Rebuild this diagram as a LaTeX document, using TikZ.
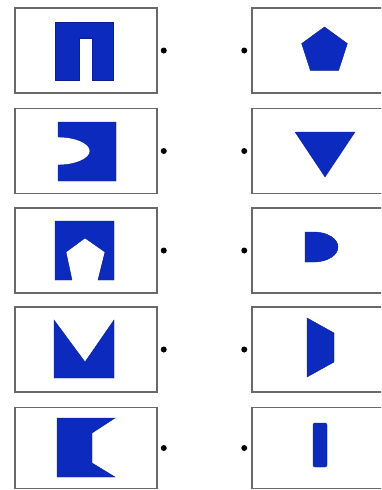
\documentclass[tikz,border=0pt]{standalone}
\usepackage{tikz}
\usetikzlibrary{positioning}
\definecolor{shapeblue}{RGB}{12,42,190}
\definecolor{framegray}{RGB}{105,105,105}

\begin{document}
\begin{tikzpicture}[x=1pt,y=-1pt,
    card/.style={draw=framegray,line width=1.1pt,fill=white,minimum width=142pt,minimum height=85pt,inner sep=0pt},
    rcard/.style={card,minimum width=150pt},
    pin/.style={circle,fill=black,minimum size=6pt,inner sep=0pt},
    piece/.style={fill=shapeblue,draw=shapeblue!75!black,line width=0.4pt}]
  \useasboundingbox (0,0) rectangle (381,490);
  \clip (0,0) rectangle (381,490);
  % left column
  \node[card] (L1) at (86,50.5) {};
  \node[card] (L2) at (86,151) {};
  \node[card] (L3) at (86,250.5) {};
  \node[card] (L4) at (86,349.5) {};
  \node[card,minimum height=81pt] (L5) at (86,448) {};
  % right column
  \node[rcard] (R1) at (327,50.5) {};
  \node[rcard] (R2) at (327,151) {};
  \node[rcard] (R3) at (327,250.5) {};
  \node[rcard] (R4) at (327,349.5) {};
  \node[rcard,minimum height=81pt] (R5) at (327,448) {};
  % pins
  \node[pin,right=3pt of L1] (a1) {};
  \node[pin,right=3pt of L2] (a2) {};
  \node[pin,right=3pt of L3] (a3) {};
  \node[pin,right=3pt of L4] (a4) {};
  \node[pin,right=3pt of L5] (a5) {};
  \node[pin,left=4pt of R1] (b1) {};
  \node[pin,left=4pt of R2] (b2) {};
  \node[pin,left=4pt of R3] (b3) {};
  \node[pin,left=4pt of R4] (b4) {};
  \node[pin,left=4pt of R5] (b5) {};
  % pieces with a hole
  \fill[piece] (55,22) -- (113,22) -- (113,80) -- (92,80) -- (92,38) -- (79,38) -- (79,80) -- (55,80) -- cycle;
  \fill[piece] (58,122) -- (116,122) -- (116,181) -- (58,181) -- (58,165)
    arc[start angle=90,end angle=-90,x radius=32,y radius=14] -- cycle;
  \fill[piece] (55,221) -- (114,221) -- (114,280) -- (98,280) -- (105,252) -- (85,238) -- (66,252) -- (72,280) -- (55,280) -- cycle;
  \fill[piece] (54,320) -- (85,362) -- (114,320) -- (114,378) -- (54,378) -- cycle;
  \fill[piece] (57,418) -- (115,418) -- (92,433) -- (92,463) -- (115,477) -- (57,477) -- cycle;
  % loose pieces
  \fill[piece,shift={(324.5,51)}] (-90:24) -- (-18:24) -- (54:24) -- (126:24) -- (198:24) -- cycle;
  \fill[piece] (295,132) -- (355,132) -- (325,177) -- cycle;
  \fill[piece] (305,232) -- (314,232) arc[start angle=-90,end angle=90,x radius=24,y radius=15] -- (305,262) -- cycle;
  \fill[piece] (307,318) -- (334,333) -- (334,362) -- (307,377) -- cycle;
  \fill[piece,rounded corners=2pt] (313,423) rectangle (327,467);
\end{tikzpicture}
\end{document}
